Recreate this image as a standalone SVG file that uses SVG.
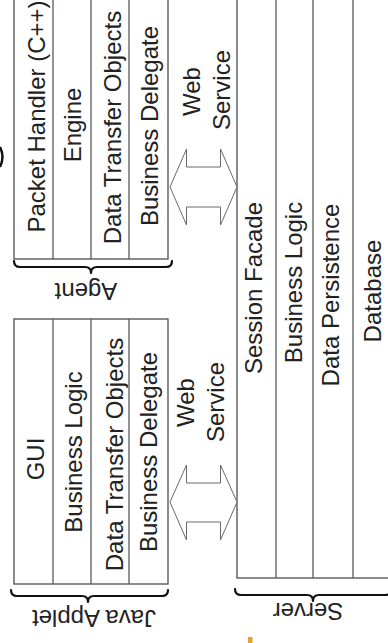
<svg xmlns="http://www.w3.org/2000/svg" width="388" height="643" viewBox="0 0 388 643">
  <style>
    .box { fill: #ffffff; stroke: #5a5a5a; stroke-width: 1.4; }
    .div { stroke: #5a5a5a; stroke-width: 1.3; fill: none; }
    .lbl { font-family: "Liberation Sans", Arial, sans-serif; font-size: 24px; fill: #222222; text-anchor: middle; }
    .brace { fill: none; stroke: #111111; stroke-width: 2.2; stroke-linejoin: round; stroke-linecap: round; }
    .arrow { fill: #ffffff; stroke: #6a6a6a; stroke-width: 1; stroke-linejoin: miter; }
  </style>
  <rect width="388" height="643" fill="#ffffff"/>

  <!-- fragment at the left edge -->
  <path d="M0,147 Q5,157 0,167" fill="none" stroke="#111111" stroke-width="2.5"/>

  <!-- Agent stack -->
  <g id="agent">
    <rect class="box" x="14" y="-10" width="154" height="269"/>
    <line class="div" x1="53" y1="-10" x2="53" y2="259"/>
    <line class="div" x1="91" y1="-10" x2="91" y2="259"/>
    <line class="div" x1="129" y1="-10" x2="129" y2="259"/>
    <text class="lbl" transform="translate(36,116.5) rotate(-90)" y="8.6">Packet Handler (C++)</text>
    <text class="lbl" transform="translate(72.4,125) rotate(-90)" y="8.6">Engine</text>
    <text class="lbl" transform="translate(112.4,127.5) rotate(-90)" y="8.6">Data Transfer Objects</text>
    <text class="lbl" transform="translate(149.4,126) rotate(-90)" y="8.6">Business Delegate</text>
    <path class="brace" d="M14,261 Q14,267 20,267 L85,267 Q91,267 91,273 Q91,267 97,267 L166,267 Q172,267 172,261"/>
    <text class="lbl" transform="translate(86,291.5) rotate(180)" y="8.6">Agent</text>
  </g>

  <!-- Java Applet stack -->
  <g id="java-applet">
    <rect class="box" x="14" y="319" width="154" height="265"/>
    <line class="div" x1="53" y1="319" x2="53" y2="584"/>
    <line class="div" x1="91" y1="319" x2="91" y2="584"/>
    <line class="div" x1="129" y1="319" x2="129" y2="584"/>
    <text class="lbl" transform="translate(35,459) rotate(-90)" y="8.6">GUI</text>
    <text class="lbl" transform="translate(73,452) rotate(-90)" y="8.6">Business Logic</text>
    <text class="lbl" transform="translate(114.5,454.5) rotate(-90)" y="8.6">Data Transfer Objects</text>
    <text class="lbl" transform="translate(148,452) rotate(-90)" y="8.6">Business Delegate</text>
    <path class="brace" d="M11,590 Q11,596 17,596 L82,596 Q88,596 88,602 Q88,596 94,596 L162,596 Q168,596 168,590"/>
    <text class="lbl" transform="translate(94,618.7) rotate(180)" y="8.6">Java Applet</text>
  </g>

  <!-- Server stack -->
  <g id="server">
    <rect class="box" x="237" y="-10" width="170" height="588"/>
    <line class="div" x1="276" y1="-10" x2="276" y2="578"/>
    <line class="div" x1="313" y1="-10" x2="313" y2="578"/>
    <line class="div" x1="353" y1="-10" x2="353" y2="578"/>
    <text class="lbl" transform="translate(253.4,288) rotate(-90)" y="8.6">Session Facade</text>
    <text class="lbl" transform="translate(293.4,282.5) rotate(-90)" y="8.6">Business Logic</text>
    <text class="lbl" transform="translate(330,295) rotate(-90)" y="8.6">Data Persistence</text>
    <text class="lbl" transform="translate(372.4,291) rotate(-90)" y="8.6">Database</text>
    <path class="brace" d="M235,589 Q235,595 241,595 L307,595 Q313,595 313,601 Q313,595 319,595 L385,595 Q391,595 391,589"/>
    <text class="lbl" transform="translate(308,612) rotate(180)" y="8.6">Server</text>
  </g>

  <!-- web service links -->
  <g id="connectors">
    <path class="arrow" d="M170,187 L186.5,149 L186.5,167 L220.5,167 L220.5,149 L237,187 L220.5,225 L220.5,207 L186.5,207 L186.5,225 Z"/>
    <text class="lbl" transform="translate(191.4,91.5) rotate(-90)" y="8.6">Web</text>
    <text class="lbl" transform="translate(221.4,90) rotate(-90)" y="8.6">Service</text>

    <path class="arrow" d="M170,502 L186.5,465 L186.5,483 L220.5,483 L220.5,465 L237,502 L220.5,540 L220.5,522 L186.5,522 L186.5,540 Z"/>
    <text class="lbl" transform="translate(185.4,402.5) rotate(-90)" y="8.6">Web</text>
    <text class="lbl" transform="translate(215.4,402) rotate(-90)" y="8.6">Service</text>
  </g>

  <!-- small mark below the server brace -->
  <rect x="248" y="637" width="4.5" height="6" fill="#e3a12f"/>
</svg>
